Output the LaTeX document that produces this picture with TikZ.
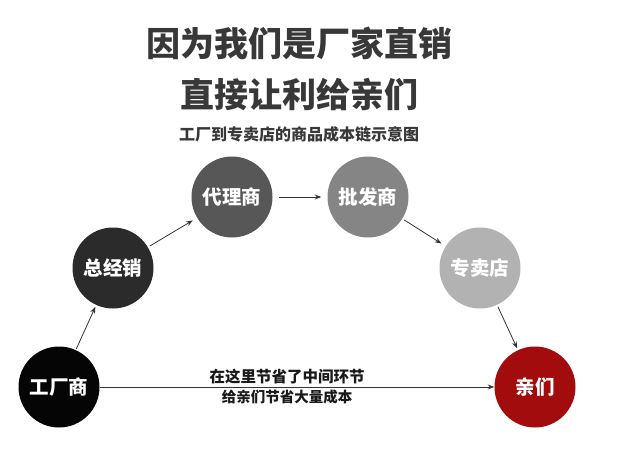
\documentclass[tikz,border=0pt]{standalone}
\usepackage{fontspec}
\newfontfamily\cjk{Noto Sans CJK SC}
\usetikzlibrary{arrows.meta, positioning}
\definecolor{titlegray}{HTML}{383838}
\definecolor{qinred}{HTML}{A20C0C}
\tikzset{
  stage/.style={circle, minimum size=81pt, inner sep=0pt, text=white,
    font=\cjk\bfseries\fontsize{19.5}{20}\selectfont},
  flow/.style={->, draw=black!80, line width=0.8pt},
  saving/.style={inner sep=1pt, text=black!90},
}

\begin{document}
\begin{tikzpicture}[x=1pt, y=-1pt, node distance=10pt, on grid, >=Stealth]
        \useasboundingbox (0,0) rectangle (620,455);
        % headings
        \node (t1) [text=titlegray, font=\cjk\bfseries\fontsize{34}{36}\selectfont] at (299,43) {因为我们是厂家直销};
        \node (t2) [text=titlegray, font=\cjk\bfseries\fontsize{34}{36}\selectfont] at (299,95) {直接让利给亲们};
        \node (t3) [text=titlegray, font=\cjk\bfseries\fontsize{16}{18}\selectfont] at (299,134) {工厂到专卖店的商品成本链示意图};
        % the chain
        \node (gcs) [stage, fill=black!98] at (59,387) {工厂商};
        \node (zjx) [stage, fill=black!83, above right=119pt and 54pt of gcs] {总经销};
        \node (dls) [stage, fill=black!66, above right=71pt and 119pt of zjx] {代理商};
        \node (pfs) [stage, fill=black!48, right=136pt of dls] {批发商};
        \node (zmd) [stage, fill=black!30, below right=71pt and 112pt of pfs] {专卖店};
        \node (qm)  [stage, fill=qinred, below right=119pt and 55pt of zmd] {亲们};
        \draw[flow, shorten <=1pt, shorten >=2pt] (gcs) -- (zjx);
        \draw[flow, shorten <=2pt, shorten >=5pt] (zjx) -- (dls);
        \draw[flow, shorten <=6pt, shorten >=6pt] (dls) -- (pfs);
        \draw[flow, shorten <=2pt, shorten >=5pt] (pfs) -- (zmd);
        \draw[flow, shorten <=2pt, shorten >=2pt] (zmd) -- (qm);
        \draw[flow] (gcs) -- node (l1) [saving, pos=0.475, above=2pt, font=\cjk\bfseries\fontsize{15.5}{17}\selectfont] {在这里节省了中间环节}
                             node (l2) [saving, pos=0.475, below=1pt, font=\cjk\bfseries\fontsize{14.5}{16}\selectfont] {给亲们节省大量成本} (qm);
      \end{tikzpicture}
\end{document}
